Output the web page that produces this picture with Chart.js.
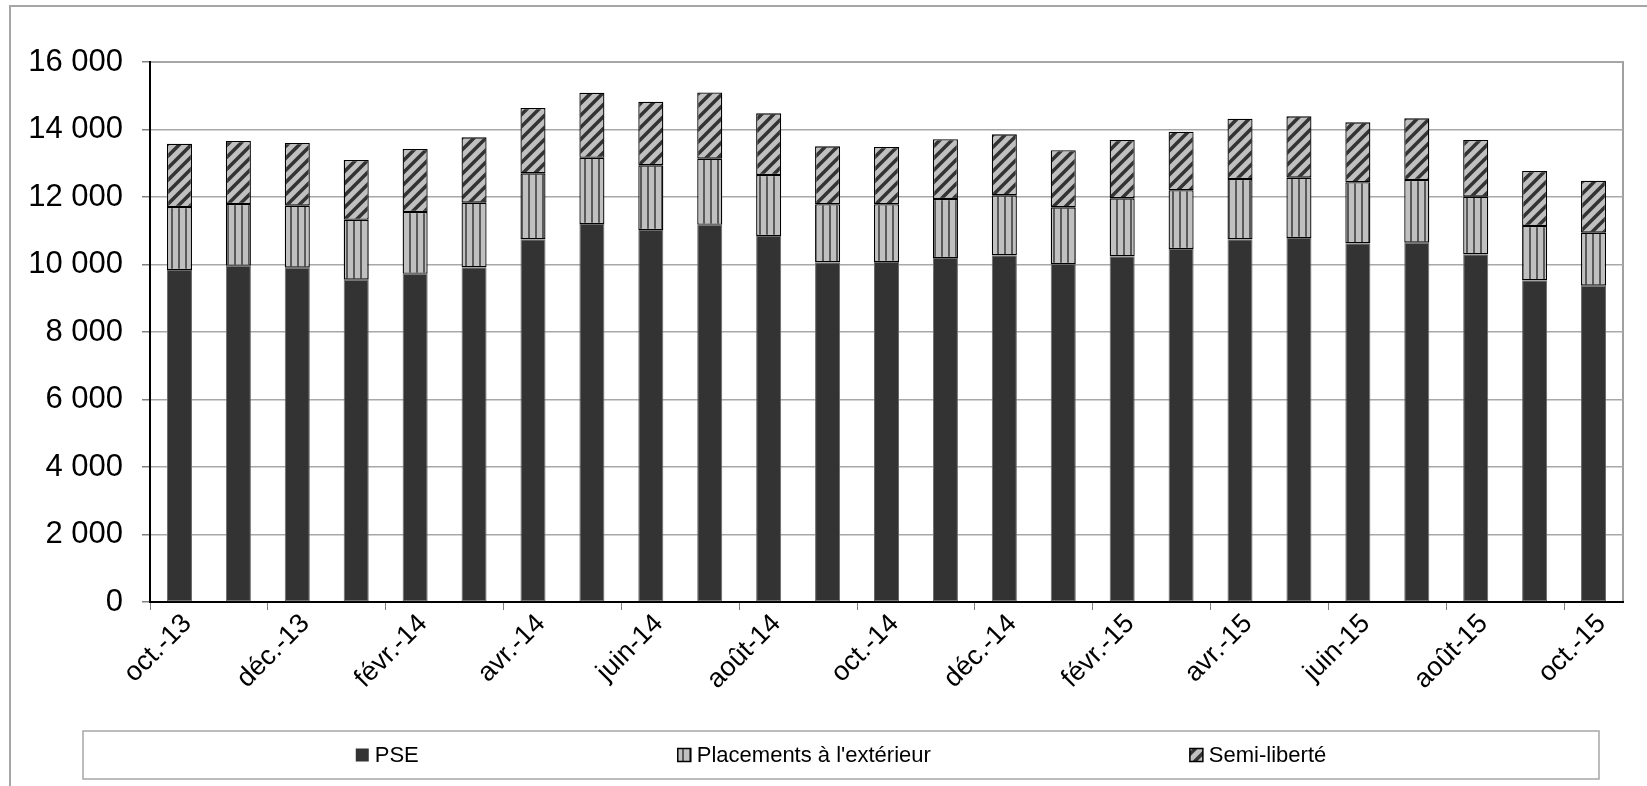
<!DOCTYPE html>
<html>
<head>
<meta charset="utf-8">
<script src="https://cdn.jsdelivr.net/npm/chart.js@4/dist/chart.umd.min.js"></script>
<style>
body { margin: 0; background: #fff; }
#cadre { width: 1647px; height: 786px; position: relative; }
</style>
</head>
<body>
<div id="cadre"><canvas id="graphe"></canvas></div>
<script>
//------------------------ DONNEES ------------------------------

const mois = ["oct.-13","nov.-13","déc.-13","janv.-14","févr.-14","mars-14","avr.-14","mai-14","juin-14",
    "juil.-14","août-14","sept.-14","oct.-14","nov.-14","déc.-14","janv.-15","févr.-15","mars-15",
    "avr.-15","mai-15","juin-15","juil.-15","août-15","sept.-15","oct.-15"];

const pse = [9837,9965,9906,9551,9728,9916,10746,11200,11022,11180,10844,10064,10074,10193,10272,
    10015,10242,10459,10746,10785,10627,10647,10301,9531,9373];

const placements = [1867,1828,1837,1777,1828,1916,1955,1965,1916,1956,1808,1719,1709,1748,1777,
    1679,1718,1739,1787,1788,1808,1857,1709,1610,1570];

const semiLiberte = [1876,1866,1857,1768,1866,1936,1936,1925,1886,1964,1827,1718,1698,1768,1808,
    1689,1729,1738,1788,1817,1777,1827,1679,1629,1541];

const series = ["PSE", "Placements à l'extérieur", "Semi-liberté"];
const yMax = 16000;
const yPas = 2000;

//------------------------ MOTIFS ------------------------------

function motifVertical() {
    var c = document.createElement("canvas");
    c.width = 7; c.height = 7;
    var ctx = c.getContext("2d");
    ctx.fillStyle = "#c0c0c0";
    ctx.fillRect(0, 0, 7, 7);
    ctx.fillStyle = "#5a5a5a";
    ctx.fillRect(3, 0, 2, 7);
    return ctx.createPattern(c, "repeat");
}

function motifDiagonal() {
    var s = 12;
    var c = document.createElement("canvas");
    c.width = s; c.height = s;
    var ctx = c.getContext("2d");
    ctx.fillStyle = "#c0c0c0";
    ctx.fillRect(0, 0, s, s);
    ctx.strokeStyle = "#333333";
    ctx.lineWidth = 3.5;
    ctx.beginPath();
    ctx.moveTo(-2, s + 2); ctx.lineTo(s + 2, -2);
    ctx.moveTo(-2, 2); ctx.lineTo(2, -2);
    ctx.moveTo(s - 2, s + 2); ctx.lineTo(s + 2, s - 2);
    ctx.stroke();
    return ctx.createPattern(c, "repeat");
}

const fondSerie = ["#333333", motifVertical(), motifDiagonal()];

function formatNombre(v) {
    return String(v).replace(/\B(?=(\d{3})+(?!\d))/g, " ");
}

//------------------------ PLUGINS ------------------------------

// fond blanc + cadre exterieur + cadre de la zone de tracé
const pluginFond = {
    id: "fond",
    beforeDraw(chart) {
        var ctx = chart.ctx;
        var a = chart.chartArea;
        ctx.save();
        ctx.fillStyle = "#fff";
        ctx.fillRect(0, 0, chart.width, chart.height);
        ctx.strokeStyle = "#a6a6a6";
        ctx.lineWidth = 2;
        ctx.strokeRect(10, 6, chart.width + 50, chart.height + 50);
        ctx.lineWidth = 2;
        ctx.strokeStyle = "#a0a0a0";
        ctx.strokeRect(a.left, a.top, a.right - a.left, a.bottom - a.top);
        ctx.restore();
    }
};

// legende dans un cadre, comme dans Excel
const pluginLegende = {
    id: "legende",
    afterDraw(chart) {
        var ctx = chart.ctx;
        var a = chart.chartArea;
        var boite = {x: a.left - 67, y: 731, w: (a.right - 24) - (a.left - 67), h: 48};
        ctx.save();
        ctx.strokeStyle = "#a6a6a6";
        ctx.lineWidth = 1.5;
        ctx.strokeRect(boite.x, boite.y, boite.w, boite.h);
        ctx.font = "22px 'Liberation Sans', Arial, sans-serif";
        ctx.textBaseline = "middle";
        var carre = 13, ecart = 6, espace = 259;
        var largeurs = series.map(function(t) { return carre + ecart + ctx.measureText(t).width; });
        var total = largeurs.reduce(function(s, l) { return s + l; }, 0) + espace * (series.length - 1);
        var x = boite.x + boite.w / 2 - total / 2;
        var yc = boite.y + boite.h / 2;
        for (var i = 0; i < series.length; i++) {
            ctx.fillStyle = fondSerie[i];
            ctx.fillRect(x, yc - carre / 2, carre, carre);
            if (i > 0) {
                ctx.strokeStyle = "#000";
                ctx.lineWidth = 1.5;
                ctx.strokeRect(x, yc - carre / 2, carre, carre);
            }
            ctx.fillStyle = "#000";
            ctx.fillText(series[i], x + carre + ecart, yc + 1);
            x += largeurs[i] + espace;
        }
        ctx.restore();
    }
};

//------------------------ GRAPHIQUE ------------------------------

Chart.defaults.font.family = "'Liberation Sans', Arial, sans-serif";
Chart.defaults.color = "#000";

function defineGraphe() {
    const data = {
        labels: mois,
        datasets: [
            {label: series[0], data: pse, backgroundColor: fondSerie[0], borderColor: "#6a6a6a", borderWidth: 1, borderSkipped: false},
            {label: series[1], data: placements, backgroundColor: fondSerie[1], borderColor: "#000", borderWidth: 1.3, borderSkipped: false},
            {label: series[2], data: semiLiberte, backgroundColor: fondSerie[2], borderColor: "#000", borderWidth: 1.3, borderSkipped: false}
        ]
    };

    const config = {
        type: "bar",
        data: data,
        options: {
            responsive: true,
            maintainAspectRatio: false,
            animation: false,
            barPercentage: 0.425,
            categoryPercentage: 1.0,
            layout: {padding: {top: 62, right: 24, left: 0, bottom: 0}},
            plugins: {legend: {display: false}, tooltip: {enabled: false}},
            scales: {
                x: {
                    stacked: true,
                    afterFit: function(scale) { scale.height = 184; },
                    border: {color: "#000", width: 2},
                    grid: {
                        offset: true,
                        drawOnChartArea: false,
                        tickLength: 8,
                        color: function(c) { return c.index % 2 == 0 ? "#808080" : "rgba(0,0,0,0)"; }
                    },
                    ticks: {
                        autoSkip: false,
                        minRotation: 45,
                        maxRotation: 45,
                        padding: -2,
                        labelOffset: 8,
                        font: {size: 27},
                        callback: function(v, i) { return i % 2 == 0 ? mois[i] : ""; }
                    }
                },
                y: {
                    stacked: true,
                    min: 0,
                    max: yMax,
                    afterFit: function(scale) { scale.width = 150; },
                    border: {color: "#000", width: 2},
                    grid: {color: "#a8a8a8", lineWidth: 1.5, tickLength: 8, tickColor: "#808080"},
                    ticks: {
                        stepSize: yPas,
                        padding: 19,
                        font: {size: 31},
                        callback: function(v) { return formatNombre(v); }
                    }
                }
            }
        },
        plugins: [pluginFond, pluginLegende]
    };

    return new Chart(document.getElementById("graphe"), config);
}

const graph = defineGraphe();
</script>
</body>
</html>
